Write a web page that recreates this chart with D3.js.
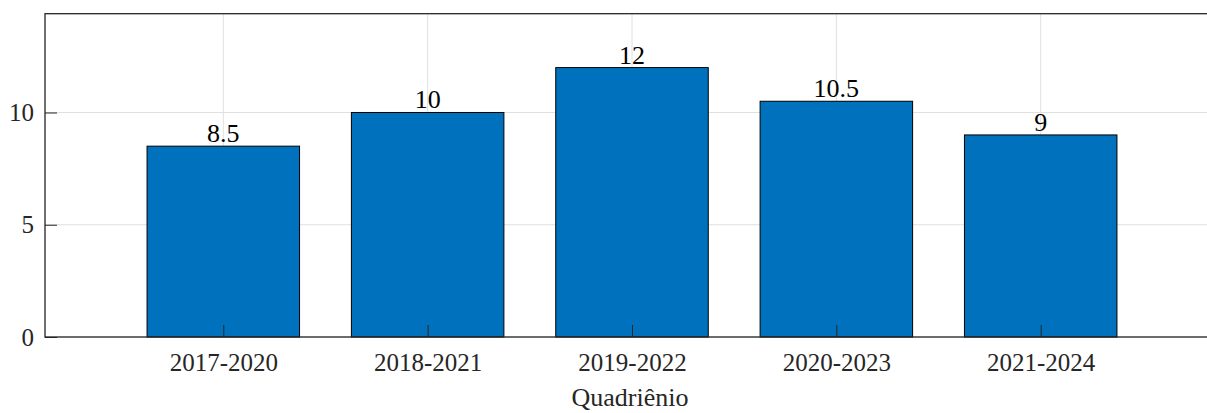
<!DOCTYPE html>
<html>
<head>
<meta charset="utf-8">
<script src="https://cdn.jsdelivr.net/npm/d3@7"></script>
<style>
  body { margin: 0; background: #fff; }
  svg text { font-family: "Liberation Serif", "Times New Roman", serif; }
</style>
</head>
<body>
<div id="viz"></div>
<script>
// data
var categories = ["2017-2020", "2018-2021", "2019-2022", "2020-2023", "2021-2024"];
var values = [8.5, 10, 12, 10.5, 9];
var yTicks = [0, 5, 10];

// plot box (right edge sits just outside the picture)
var W = 1207, H = 413;
var boxL = 45, boxR = 1219, boxT = 13.7, boxB = 337;

var svg = d3.select("#viz")
  .append("svg")
  .attr("width", W)
  .attr("height", H);

var xScale = d3.scalePoint().domain(categories).range([223.3, 1040.7]);
var barW = 152.5;
var yScale = d3.scaleLinear().domain([0, 14.4]).range([boxB, boxT]);

// grid
var grid = svg.append("g").attr("stroke", "#e0e0e0").attr("stroke-width", 1);
grid.selectAll(".gx").data(categories).enter().append("line")
  .attr("x1", d => xScale(d)).attr("x2", d => xScale(d))
  .attr("y1", boxT).attr("y2", boxB);
grid.selectAll(".gy").data(yTicks).enter().append("line")
  .attr("x1", boxL).attr("x2", boxR)
  .attr("y1", d => yScale(d)).attr("y2", d => yScale(d));

// bars
svg.selectAll(".bar").data(values).enter().append("rect")
  .attr("x", (d, i) => xScale(categories[i]) - barW / 2)
  .attr("width", barW)
  .attr("y", d => yScale(d))
  .attr("height", d => boxB - yScale(d))
  .attr("fill", "#0072BD")
  .attr("stroke", "#000")
  .attr("stroke-width", 1);

// value labels
svg.selectAll(".val").data(values).enter().append("text")
  .attr("x", (d, i) => xScale(categories[i]))
  .attr("y", d => yScale(d) - 4)
  .attr("text-anchor", "middle")
  .attr("font-size", 26)
  .attr("fill", "#000")
  .text(d => d);

// axes
var xAxis = d3.axisBottom(xScale).tickSize(-12);
var yAxis = d3.axisLeft(yScale).tickValues(yTicks).tickSize(-12).tickPadding(11);

var gx = svg.append("g")
  .attr("transform", "translate(0," + boxB + ")")
  .call(xAxis);
var gy = svg.append("g")
  .attr("transform", "translate(" + boxL + ",0)")
  .call(yAxis);

[gx, gy].forEach(g => {
  g.select(".domain").remove();
  g.selectAll(".tick line").attr("stroke", "#262626").attr("stroke-width", 1);
  g.selectAll(".tick text").attr("fill", "#262626").attr("font-size", 25)
    .style("font-family", "'Liberation Serif', 'Times New Roman', serif");
});
gx.selectAll(".tick text").attr("dy", "0").attr("y", 34);
gy.selectAll(".tick text").attr("dy", "0.32em");

// right side ticks
svg.append("g").selectAll("line").data(yTicks).enter().append("line")
  .attr("x1", boxR).attr("x2", boxR - 12)
  .attr("y1", d => yScale(d)).attr("y2", d => yScale(d))
  .attr("stroke", "#262626");

// box
svg.append("rect")
  .attr("x", boxL).attr("y", boxT)
  .attr("width", boxR - boxL).attr("height", boxB - boxT)
  .attr("fill", "none")
  .attr("stroke", "#262626")
  .attr("stroke-width", 1.3);

// x label
svg.append("text")
  .attr("x", 630)
  .attr("y", 406)
  .attr("text-anchor", "middle")
  .attr("font-size", 26)
  .attr("fill", "#262626")
  .text("Quadriênio");
</script>
</body>
</html>
